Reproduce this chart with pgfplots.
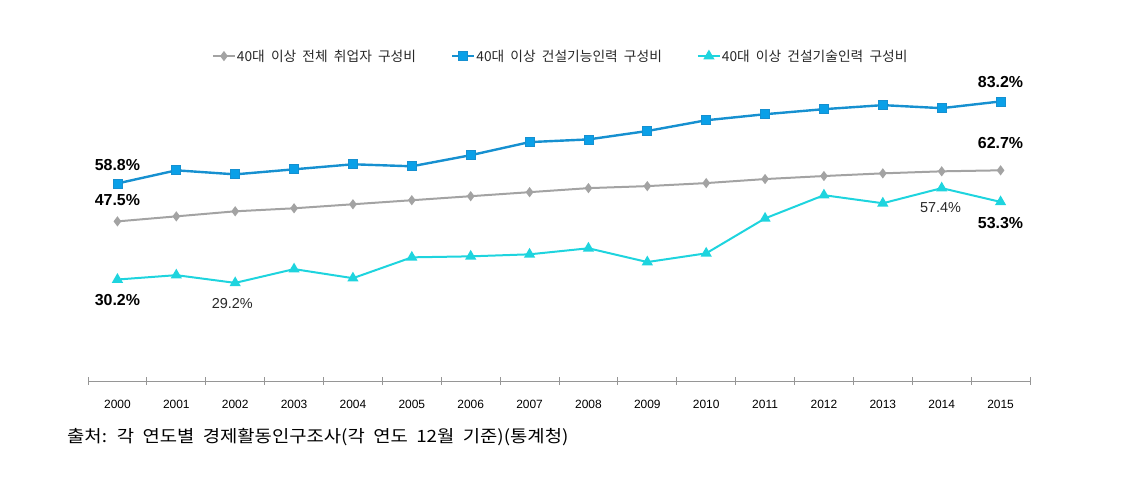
\documentclass[border=0pt]{standalone}
\usepackage{fontspec}
\setmainfont{Liberation Sans}
\newfontfamily\kr[WordSpace=2]{Noto Sans CJK KR}
\usepackage{graphicx}
\usepackage{pgfplots}
\pgfplotsset{compat=1.18}
\definecolor{cgray}{RGB}{163,163,163}
\definecolor{cblue}{RGB}{22,144,208}
\definecolor{cbluef}{RGB}{10,160,232}
\definecolor{cteal}{RGB}{30,212,222}
\definecolor{caxis}{RGB}{150,150,150}
\definecolor{ctext}{RGB}{40,40,40}
\newcommand{\legfont}{\kr\fontsize{13.8}{15}\selectfont}
\begin{document}
\begin{tikzpicture}
\useasboundingbox (0,0) rectangle (1132bp,479bp);
\begin{axis}[
  at={(88bp,98bp)}, anchor=south west,
  scale only axis, width=942bp, height=336bp,
  xmin=-0.5, xmax=15.5, ymin=0, ymax=100,
  axis x line=bottom, axis y line=none,
  axis line style={caxis, line width=0.8bp, -},
  xtick={0,...,15},
  xticklabels={2000,2001,2002,2003,2004,2005,2006,2007,2008,2009,2010,2011,2012,2013,2014,2015},
  major tick length=0pt,
  minor xtick={-0.5,0.5,...,15.5},
  minor tick length=8bp,
  tick align=center,
  minor tick style={caxis, line width=0.8bp},
  xticklabel style={font=\fontsize{12}{14}\selectfont, text=black, inner sep=0pt, yshift=-18.5bp},
  /pgf/number format/assume math mode=true,
  clip=false,
  legend columns=3,
  legend style={at={(0.1316,0.967)}, anchor=west, draw=none, fill=none, inner sep=0pt, outer sep=0pt,
    text=ctext,
    nodes={inner sep=1bp},
    /tikz/every odd column/.append style={column sep=0bp},
    /tikz/every even column/.append style={column sep=34bp}},
  legend image code/.code={%
    \draw[mark repeat=2, mark phase=2, #1] plot coordinates {(0bp,0bp) (11bp,0bp) (22bp,0bp)};},
]
\addplot[cgray, line width=2bp, mark=diamond*, mark size=3.5bp, mark options={fill=cgray, draw=cgray}]
  coordinates {(0,47.5) (1,49.0) (2,50.5) (3,51.4) (4,52.6) (5,53.8) (6,55.0) (7,56.2) (8,57.4) (9,58.0) (10,58.9) (11,60.1) (12,61.0) (13,61.8) (14,62.4) (15,62.7)};
\addlegendentry{\legfont 40대 이상 전체 취업자 구성비}
\addplot[cblue, line width=2.4bp, mark=square*, mark size=4.5bp, mark options={fill=cbluef, draw=cblue, line width=0.8bp}]
  coordinates {(0,58.8) (1,62.7) (2,61.5) (3,63.0) (4,64.5) (5,63.9) (6,67.2) (7,71.1) (8,71.9) (9,74.4) (10,77.6) (11,79.4) (12,80.9) (13,82.1) (14,81.2) (15,83.2)};
\addlegendentry{\legfont 40대 이상 건설기능인력 구성비}
\addplot[cteal, line width=2bp, mark=triangle*, mark size=4.5bp, mark options={fill=cteal, draw=cteal}]
  coordinates {(0,30.2) (1,31.5) (2,29.2) (3,33.3) (4,30.6) (5,36.8) (6,37.1) (7,37.7) (8,39.5) (9,35.4) (10,38.0) (11,48.4) (12,55.3) (13,52.9) (14,57.4) (15,53.3)};
\addlegendentry{\legfont 40대 이상 건설기술인력 구성비}
\node[font=\bfseries\fontsize{16}{18}\selectfont, text=black] at (axis cs:0,64.3) {58.8\%};
\node[font=\bfseries\fontsize{16}{18}\selectfont, text=black] at (axis cs:0,53.9) {47.5\%};
\node[font=\bfseries\fontsize{16}{18}\selectfont, text=black] at (axis cs:0,24.1) {30.2\%};
\node[font=\fontsize{14.5}{17}\selectfont, text=ctext] at (axis cs:1.95,23.2) {29.2\%};
\node[font=\bfseries\fontsize{16}{18}\selectfont, text=black] at (axis cs:15,89.0) {83.2\%};
\node[font=\bfseries\fontsize{16}{18}\selectfont, text=black] at (axis cs:15,70.8) {62.7\%};
\node[font=\fontsize{14.5}{17}\selectfont, text=ctext] at (axis cs:13.98,51.5) {57.4\%};
\node[font=\bfseries\fontsize{16}{18}\selectfont, text=black] at (axis cs:15,47.0) {53.3\%};
\end{axis}
\node[anchor=west, inner sep=0pt, text=black] at (67bp,42bp) {\scalebox{1.11}[1]{\kr\fontsize{17}{19}\selectfont 출처: 각 연도별 경제활동인구조사(각 연도 12월 기준)(통계청)}};
\end{tikzpicture}
\end{document}
